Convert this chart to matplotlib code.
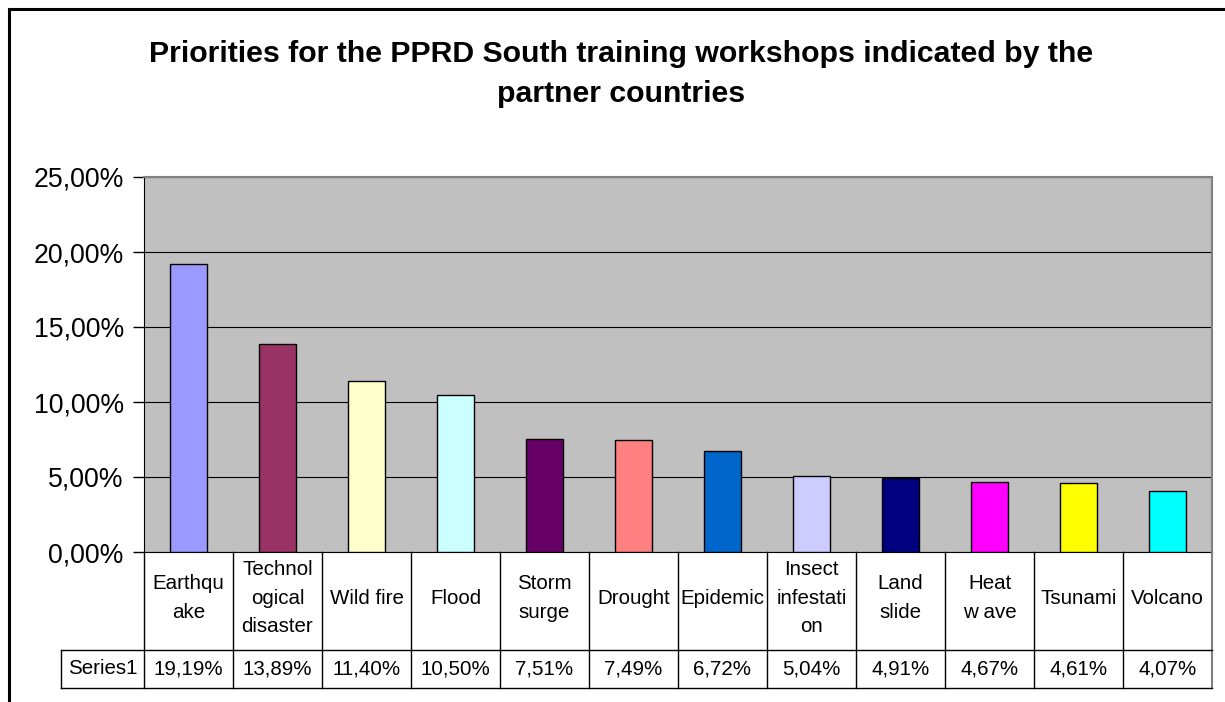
import matplotlib
matplotlib.use("Agg")
import matplotlib.pyplot as plt
from matplotlib.lines import Line2D

plt.rcParams['font.family'] = ['Liberation Sans', 'DejaVu Sans']

# data
categories = ["Earthqu\nake", "Technol\nogical\ndisaster", "Wild fire", "Flood",
              "Storm\nsurge", "Drought", "Epidemic", "Insect\ninfestati\non",
              "Land\nslide", "Heat\nw ave", "Tsunami", "Volcano"]
values = [19.19, 13.89, 11.40, 10.50, 7.51, 7.49, 6.72, 5.04, 4.91, 4.67, 4.61, 4.07]
value_labels = ["19,19%", "13,89%", "11,40%", "10,50%", "7,51%", "7,49%",
                "6,72%", "5,04%", "4,91%", "4,67%", "4,61%", "4,07%"]
bar_colors = ["#9999FF", "#993366", "#FFFFCC", "#CCFFFF", "#660066", "#FF8080",
              "#0066CC", "#CCCCFF", "#000080", "#FF00FF", "#FFFF00", "#00FFFF"]
y_ticks = [0, 5, 10, 15, 20, 25]
y_tick_labels = ["0,00%", "5,00%", "10,00%", "15,00%", "20,00%", "25,00%"]
series_name = "Series1"

W, H = 1225, 702
fig = plt.figure(figsize=(W / 100, H / 100), dpi=100)
fig.patch.set_facecolor("white")

# pixel helpers
def fx(px):
    return px / W

def fy(py):
    return 1 - py / H

# outer frame (top and left only visible)
fig.add_artist(Line2D([fx(9), fx(9)], [fy(9), 0], color="black", lw=2.2))
fig.add_artist(Line2D([fx(9), 1], [fy(9), fy(9)], color="black", lw=2.2))

left, right, top, bottom = 144, 1212, 177, 552
ax = fig.add_axes([fx(left), fy(bottom), fx(right - left), (bottom - top) / H])
ax.set_facecolor("#C0C0C0")

n = len(values)
x = list(range(n))
ax.bar(x, values, width=0.42, color=bar_colors, edgecolor="black", linewidth=1, zorder=3)
ax.set_xlim(-0.5, n - 0.5)
ax.set_ylim(0, 25)
ax.set_yticks(y_ticks)
ax.set_yticklabels(y_tick_labels, fontsize=19.2)
ax.yaxis.grid(True, color="black", linewidth=0.8, zorder=1)
ax.set_xticks([])
ax.tick_params(axis="y", direction="out", length=8, width=1, pad=6.5)
for s in ["top", "right"]:
    ax.spines[s].set_color("#808080")
    ax.spines[s].set_linewidth(1.5)
ax.spines["left"].set_color("black")
ax.spines["bottom"].set_color("black")

# data table below the axes
row1_bot = 650
row2_bot = 688
lab_left = 61
cell_w = (right - left) / n
lc = "black"
fig.add_artist(Line2D([fx(left), fx(left)], [fy(bottom), fy(row2_bot)], color=lc, lw=1))
for i in range(1, n):
    xp = left + i * cell_w
    fig.add_artist(Line2D([fx(xp), fx(xp)], [fy(bottom), fy(row2_bot)], color=lc, lw=1))
fig.add_artist(Line2D([fx(right), fx(right)], [fy(bottom), fy(row2_bot)], color="#808080", lw=1.5))
fig.add_artist(Line2D([fx(lab_left), fx(right)], [fy(row1_bot), fy(row1_bot)], color=lc, lw=1))
fig.add_artist(Line2D([fx(lab_left), fx(right)], [fy(row2_bot), fy(row2_bot)], color=lc, lw=1))
fig.add_artist(Line2D([fx(lab_left), fx(lab_left)], [fy(row1_bot), fy(row2_bot)], color=lc, lw=1))

fs = 14.8
for i in range(n):
    xc = left + (i + 0.5) * cell_w
    fig.text(fx(xc), fy(598), categories[i], ha="center", va="center",
             fontsize=fs, linespacing=1.65)
    fig.text(fx(xc), fy((row1_bot + row2_bot) / 2), value_labels[i], ha="center", va="center",
             fontsize=fs)
fig.text(fx((lab_left + left) / 2), fy((row1_bot + row2_bot) / 2), series_name,
         ha="center", va="center", fontsize=fs)

fig.text(fx(621), fy(74), "Priorities for the PPRD South training workshops indicated by the\npartner countries",
         ha="center", va="center", fontsize=21.8, fontweight="bold", linespacing=1.58)

fig.savefig("out.png", dpi=100)
